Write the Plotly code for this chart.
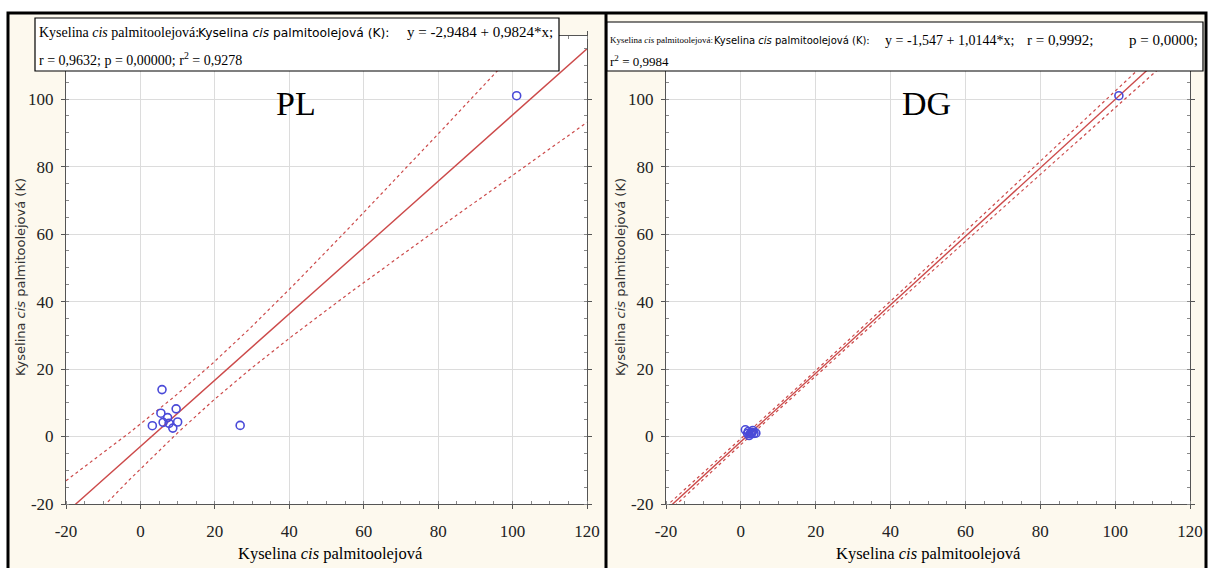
import numpy as np
import plotly.graph_objects as go

W, H = 1212, 568

# ---------------- data ----------------
pl_x = [5.8, 9.6, 5.5, 3.2, 7.3, 6.1, 7.7, 10.0, 8.7, 26.8, 101.1]
pl_y = [13.9, 8.2, 6.9, 3.2, 5.6, 4.2, 3.9, 4.3, 2.5, 3.3, 101.0]
pl_b0, pl_b1 = -2.9484, 0.9824

dg_x = [1.2, 2.0, 2.5, 3.0, 3.5, 2.2, 1.8, 3.2, 2.8, 4.0, 101.0]
dg_y = [2.0, 1.5, 0.8, 1.2, 0.9, 0.3, 0.9, 1.8, 1.0, 1.0, 101.0]
dg_b0, dg_b1 = -1.547, 1.0144

T_CRIT = 2.262  # Student t, 95 %, df = 9

x_ticks = [-20, 0, 20, 40, 60, 80, 100, 120]
x_tick_text = ["-20", "0", "20", "40", "60", "80", "100", "120"]
y_ticks = [-20, 0, 20, 40, 60, 80, 100]
y_tick_text = ["-20", "0", "20", "40", "60", "80", "100"]

SERIF = "Liberation Serif, Times New Roman, serif"
SANS = "DejaVu Sans, Verdana, sans-serif"

# title pieces: (text, x_px, y_px, size, family)
pl_title = [
    ("Kyselina <i>cis</i> palmitoolejová:", 38, 32, 14, SERIF),
    ("Kyselina <i>cis</i> palmitoolejová (K):", 197, 33, 12.3, SANS),
    ("y = -2,9484 + 0,9824*x;", 406, 32, 15, SERIF),
    ("r = 0,9632; p = 0,00000; r<sup>2</sup> = 0,9278", 38, 59, 14, SERIF),
]
dg_title = [
    ("Kyselina <i>cis</i> palmitoolejová:", 609, 40, 9, SERIF),
    ("Kyselina <i>cis</i> palmitoolejová (K):", 713, 40, 10, SANS),
    ("y = -1,547 + 1,0144*x;", 884, 40, 14, SERIF),
    ("r = 0,9992;", 1026, 40, 15, SERIF),
    ("p = 0,0000;", 1128, 40, 15, SERIF),
    ("r<sup>2</sup> = 0,9984", 609, 61, 13, SERIF),
]
x_label = "Kyselina <i>cis</i> palmitoolejová"
y_label = "Kyselina <i>cis</i> palmitoolejová (K)"
panel_names = ["PL", "DG"]

# ---------------- helpers ----------------
def px(x):
    return x / W


def py(y):
    return 1 - y / H


def band(xs, ys, b0, b1, xg):
    xs = np.asarray(xs, float)
    ys = np.asarray(ys, float)
    n = len(xs)
    xm = xs.mean()
    sxx = ((xs - xm) ** 2).sum()
    res = ys - (b0 + b1 * xs)
    s = np.sqrt((res ** 2).sum() / (n - 2))
    hw = T_CRIT * s * np.sqrt(1 / n + (xg - xm) ** 2 / sxx)
    yh = b0 + b1 * xg
    return yh, yh - hw, yh + hw


RED = "#cc4a4a"
BLUE = "#4a4ad8"
CREAM = "#fdf9ee"

fig = go.Figure()
xg = np.linspace(-20, 120, 281)

panels = [
    (pl_x, pl_y, pl_b0, pl_b1, "x", "y"),
    (dg_x, dg_y, dg_b0, dg_b1, "x2", "y2"),
]
for xs, ys, b0, b1, xa, ya in panels:
    yh, lo, hi = band(xs, ys, b0, b1, xg)
    fig.add_trace(go.Scatter(x=xg, y=yh, mode="lines", xaxis=xa, yaxis=ya,
                             line=dict(color=RED, width=1.4), showlegend=False))
    for yy in (lo, hi):
        fig.add_trace(go.Scatter(x=xg, y=yy, mode="lines", xaxis=xa, yaxis=ya,
                                 line=dict(color=RED, width=1.2, dash="3px,3px"),
                                 showlegend=False))
    fig.add_trace(go.Scatter(x=xs, y=ys, mode="markers", xaxis=xa, yaxis=ya,
                             marker=dict(symbol="circle-open", size=8, color=BLUE,
                                         line=dict(width=1.6, color=BLUE)),
                             showlegend=False))

ydom = [py(504), py(36)]
common_x = dict(range=[-20, 120], tickvals=x_ticks, ticktext=x_tick_text, showgrid=True,
                gridcolor="#dcdcdc", gridwidth=1, zeroline=False, showline=True,
                linecolor="#555", linewidth=1, mirror="ticks", ticks="outside", ticklen=4,
                tickcolor="#555", automargin=False, ticklabelstandoff=8,
                minor=dict(dtick=5, ticks="inside", ticklen=3, tickcolor="#888", showgrid=False),
                tickfont=dict(family=SERIF, size=17, color="#222"))
common_y = dict(range=[-20, 118.7], tickvals=y_ticks, ticktext=y_tick_text, showgrid=True,
                gridcolor="#dcdcdc", gridwidth=1, zeroline=False, showline=True,
                linecolor="#555", linewidth=1, mirror="ticks", ticks="outside", ticklen=4,
                tickcolor="#555", automargin=False, ticklabelstandoff=4,
                minor=dict(dtick=5, ticks="inside", ticklen=3, tickcolor="#888", showgrid=False),
                tickfont=dict(family=SERIF, size=17, color="#222"),
                domain=ydom)

fig.update_layout(
    width=W, height=H, margin=dict(l=0, r=0, t=0, b=0, autoexpand=False),
    paper_bgcolor=CREAM, plot_bgcolor="white",
    xaxis=dict(common_x, domain=[px(66), px(587)], anchor="y"),
    yaxis=dict(common_y, anchor="x"),
    xaxis2=dict(common_x, domain=[px(666), px(1190)], anchor="y2"),
    yaxis2=dict(common_y, anchor="x2"),
)

shapes = [
    # white surround outside the frame
    dict(type="rect", xref="paper", yref="paper", x0=0, x1=1, y0=py(12), y1=1,
         fillcolor="white", line=dict(width=0), layer="below"),
    dict(type="rect", xref="paper", yref="paper", x0=0, x1=px(7), y0=0, y1=1,
         fillcolor="white", line=dict(width=0), layer="below"),
    dict(type="rect", xref="paper", yref="paper", x0=px(1207), x1=1, y0=0, y1=1,
         fillcolor="white", line=dict(width=0), layer="below"),
    # outer frame
    dict(type="rect", xref="paper", yref="paper", x0=px(8), x1=px(1206), y0=py(575), y1=py(13),
         line=dict(color="black", width=3), layer="above"),
    dict(type="line", xref="paper", yref="paper", x0=px(606), x1=px(606), y0=py(575), y1=py(13),
         line=dict(color="black", width=3), layer="above"),
    # title boxes
    dict(type="rect", xref="paper", yref="paper", x0=px(35), x1=px(559), y0=py(71), y1=py(18),
         fillcolor="white", line=dict(color="black", width=1.2), layer="above"),
    dict(type="rect", xref="paper", yref="paper", x0=px(607), x1=px(1203), y0=py(71), y1=py(22),
         fillcolor="white", line=dict(color="black", width=1.2), layer="above"),
]
fig.update_layout(shapes=shapes)

ann = []


def add_text(text, x, y, size, family=SERIF, xanchor="left", angle=0, color="black"):
    ann.append(dict(text=text, x=px(x), y=py(y), xref="paper", yref="paper",
                    xanchor=xanchor, yanchor="middle", showarrow=False, align="left",
                    textangle=angle, borderpad=0,
                    font=dict(family=family, size=size, color=color)))


for t, x, y, s, f in pl_title + dg_title:
    add_text(t, x, y, s, f)
add_text(panel_names[0], 296, 103, 34, xanchor="center")
add_text(panel_names[1], 926, 103, 34, xanchor="center")
add_text(x_label, 330, 553, 16.5, xanchor="center")
add_text(x_label, 928, 553, 16.5, xanchor="center")
add_text(y_label, 20, 277, 13, family=SANS, xanchor="center", angle=-90, color="#333")
add_text(y_label, 620, 277, 13, family=SANS, xanchor="center", angle=-90, color="#333")
fig.update_layout(annotations=ann)

fig.write_html("out.html")
